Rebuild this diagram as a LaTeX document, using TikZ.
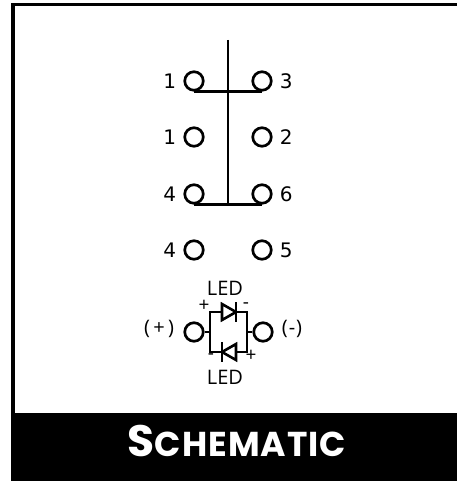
\documentclass[tikz,border=0pt]{standalone}
\usepackage{fontspec}
\setmainfont{DejaVu Sans}
\newfontfamily\ledfont{Open Sans}
\newfontfamily\titlefont{Poppins}[BoldFont={* Bold}, LetterSpace=3]
\usetikzlibrary{shapes.geometric}
\newcommand{\pinsize}{18.5pt}
\newcommand{\titlecap}[2]{{\fontsize{44}{44}\selectfont #1}{\fontsize{34.5}{34.5}\selectfont #2}}
\tikzset{
    wire/.style={draw=black, line width=2.8pt},
    pin/.style={draw=black, circle, line width=2.7pt, minimum size=\pinsize, inner sep=0pt, fill=white},
    pinnum/.style={font=\fontsize{20}{20}\selectfont, inner sep=0pt, text=black},
    ledtext/.style={font=\ledfont\fontsize{20}{20}\selectfont, inner sep=0pt, text=black},
    polarity/.style={font=\ledfont\fontsize{19}{19}\selectfont, inner sep=0pt, text=black},
    diode/.style={draw=black, fill=white, line width=2.6pt, isosceles triangle, isosceles triangle stretches, inner sep=0pt, outer sep=0pt, minimum height=14pt, minimum width=16pt, anchor=apex},
    cathode/.style={fill=black, rectangle, inner sep=0pt, minimum width=2.8pt, minimum height=20pt}
}
\begin{document}
\begin{tikzpicture}[x=1pt, y=-1pt]
    \useasboundingbox (0,0) rectangle (457,481);
    \fill[white] (0,0) rectangle (457,481);

    \coordinate (framebl) at (13,413);
    \coordinate (frametl) at (13,4.5);
    \coordinate (frametr) at (457,4.5);
    \draw[black, line width=3.6pt] (framebl) -- (frametl) -- (frametr);
    \node[fill=black, minimum width=446pt, minimum height=68pt, anchor=north west, inner sep=0pt] (band) at (11,413) {};
    \node[text=white, inner sep=0pt, font=\titlefont\bfseries] (title) at (237,441) {\titlecap{S}{CHEMATIC}};

    \node[pin, label={[pinnum, label distance=7pt]left:1}] (pinA) at (194,81) {};
    \node[pin, label={[pinnum, label distance=7pt]right:3}] (pinB) at (262,81) {};
    \node[pin, label={[pinnum, label distance=7pt]left:1}] (pinC) at (194,137) {};
    \node[pin, label={[pinnum, label distance=7pt]right:2}] (pinD) at (262,137) {};
    \node[pin, label={[pinnum, label distance=7pt]left:4}] (pinE) at (194,194) {};
    \node[pin, label={[pinnum, label distance=7pt]right:6}] (pinF) at (262,194) {};
    \node[pin, label={[pinnum, label distance=7pt]left:4}] (pinG) at (194,250) {};
    \node[pin, label={[pinnum, label distance=7pt]right:5}] (pinH) at (262,250) {};

    \coordinate (stemtop) at (228,40);
    \coordinate (stembot) at (228,203.5);
    \draw[wire] (pinA.south) -- (pinB.south);
    \draw[wire] (pinE.south) -- (pinF.south);
    \draw[wire] (stemtop) -- (stembot);

    \node[pin] (ledplus) at (194,332) {};
    \node[pin] (ledminus) at (263,332) {};
    \coordinate (joinL) at (210,332);
    \coordinate (joinR) at (247,332);
    \coordinate (cornerTL) at (210,312);
    \coordinate (cornerTR) at (247,312);
    \coordinate (cornerBL) at (210,352);
    \coordinate (cornerBR) at (247,352);
    \draw[wire] (ledplus) -- (joinL);
    \draw[wire] (ledminus) -- (joinR);
    \draw[wire] (cornerBL) -- (cornerTL) -- (cornerTR) -- (cornerBR) -- (cornerBL) -- cycle;

    \node[diode] (ledtop) at (236,312) {};
    \node[cathode] (bartop) at (236,312) {};
    \node[diode, shape border rotate=180] (ledbot) at (222,352) {};
    \node[cathode] (barbot) at (222,352) {};

    \node[ledtext] (ledtoplabel) at (225,288) {LED};
    \node[ledtext] (ledbotlabel) at (225,377) {LED};
    \node[polarity] (plustop) at (204,306) {+};
    \node[polarity] (minustop) at (246,306) {-};
    \node[polarity] (minusbot) at (211,357) {-};
    \node[polarity] (plusbot) at (251,356) {+};
    \node[ledtext] (pluslabel) at (159,329) {(\,+\,)};
    \node[ledtext] (minuslabel) at (292,329) {(\kern1pt-\kern1pt)};
\end{tikzpicture}
\end{document}
